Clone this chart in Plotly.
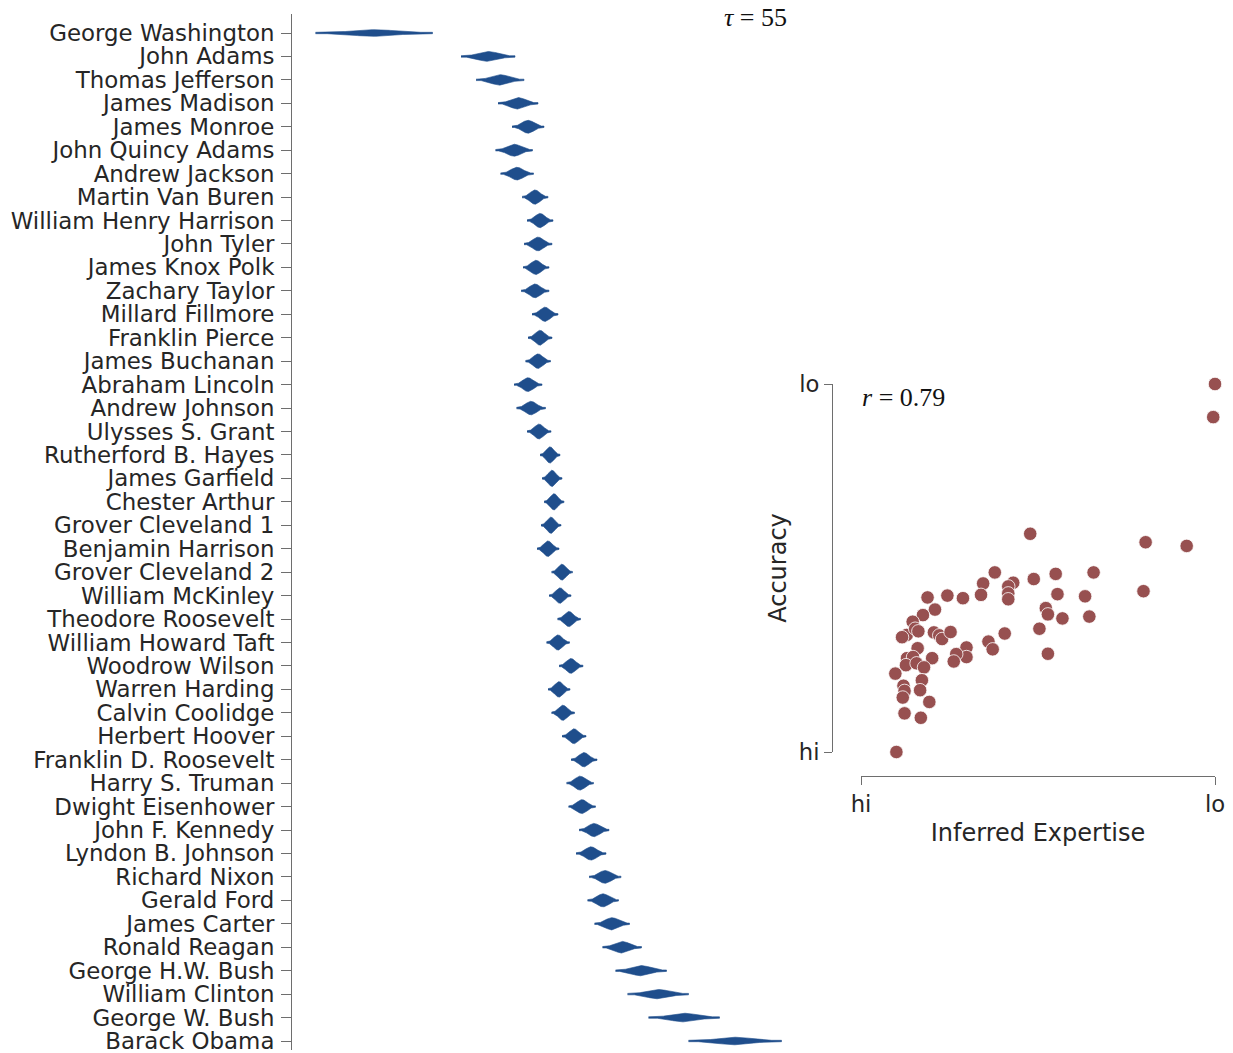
import numpy as np
import plotly.graph_objects as go

W, H = 1233, 1053

# Presidents in chronological order, with the location and extent of each
# posterior expertise distribution (arbitrary expertise units).
presidents = [
    "George Washington", "John Adams", "Thomas Jefferson", "James Madison",
    "James Monroe", "John Quincy Adams", "Andrew Jackson", "Martin Van Buren",
    "William Henry Harrison", "John Tyler", "James Knox Polk", "Zachary Taylor",
    "Millard Fillmore", "Franklin Pierce", "James Buchanan", "Abraham Lincoln",
    "Andrew Johnson", "Ulysses S. Grant", "Rutherford B. Hayes", "James Garfield",
    "Chester Arthur", "Grover Cleveland 1", "Benjamin Harrison", "Grover Cleveland 2",
    "William McKinley", "Theodore Roosevelt", "William Howard Taft", "Woodrow Wilson",
    "Warren Harding", "Calvin Coolidge", "Herbert Hoover", "Franklin D. Roosevelt",
    "Harry S. Truman", "Dwight Eisenhower", "John F. Kennedy", "Lyndon B. Johnson",
    "Richard Nixon", "Gerald Ford", "James Carter", "Ronald Reagan",
    "George H.W. Bush", "William Clinton", "George W. Bush", "Barack Obama",
]
expertise_center = [
    374, 488, 500, 518, 528, 514, 517, 535, 540, 538, 536, 535,
    545, 540, 538, 528, 531, 539, 550, 552, 554, 551, 548, 562,
    560, 569, 558, 571, 559, 563, 574, 584, 580, 582, 594, 591,
    605, 603, 612, 622, 641, 658, 684, 735,
]
expertise_spread = [
    117, 54, 48, 40, 32, 37, 33, 26, 26, 28, 26, 28,
    26, 24, 25, 28, 29, 24, 20, 20, 20, 20, 22, 21,
    22, 23, 23, 24, 22, 23, 24, 26, 27, 27, 30, 30,
    32, 31, 35, 39, 51, 61, 71, 93,
]

# Inset: inferred expertise vs. accuracy (0 = hi, 1 = lo on both axes)
inferred_expertise = [
    1.000, 0.995, 0.478, 0.804, 0.920,
    0.378, 0.345, 0.430, 0.416, 0.488, 0.550, 0.657, 0.798,
    0.188, 0.244, 0.288, 0.339, 0.416, 0.416, 0.555, 0.633,
    0.209, 0.175, 0.146, 0.522, 0.528, 0.569, 0.645, 0.504,
    0.129, 0.116, 0.153, 0.162, 0.206, 0.221, 0.229, 0.253,
    0.406, 0.360, 0.372, 0.528, 0.160, 0.298, 0.298, 0.269,
    0.262, 0.201, 0.130, 0.147, 0.127, 0.157, 0.178, 0.097,
    0.172, 0.120, 0.123, 0.167, 0.118, 0.193, 0.123, 0.169,
    0.100,
]
accuracy = [
    1.000, 0.910, 0.593, 0.570, 0.560,
    0.488, 0.458, 0.460, 0.450, 0.470, 0.484, 0.488, 0.437,
    0.420, 0.425, 0.418, 0.427, 0.431, 0.415, 0.429, 0.423,
    0.387, 0.372, 0.354, 0.391, 0.374, 0.363, 0.368, 0.335,
    0.318, 0.312, 0.335, 0.328, 0.325, 0.317, 0.307, 0.326,
    0.322, 0.300, 0.279, 0.267, 0.282, 0.284, 0.258, 0.266,
    0.246, 0.255, 0.255, 0.258, 0.236, 0.241, 0.230, 0.213,
    0.195, 0.180, 0.166, 0.168, 0.148, 0.136, 0.105, 0.093,
    0.000,
]

tau_label = "<i>τ</i> = 55"
r_label = "<i>r</i> = 0.79"

VIOLIN_BLUE = "#1f4e8c"
DOT_RED = "#975050"
TEXT = "#262626"
AXIS = "#6e6e6e"

# ---- violin-style density shapes, one per president ----
t = np.linspace(-1.0, 1.0, 161)
profile = np.exp(-0.5 * (2.6 * t) ** 2)
xs, ys = [], []
for i, (c, s) in enumerate(zip(expertise_center, expertise_spread)):
    half = 1.55 / np.sqrt(s)
    thick = np.maximum(half * profile, 0.03)
    x_outline = np.concatenate([c + t * s / 2.0, (c + t * s / 2.0)[::-1]])
    y_outline = np.concatenate([i - thick, (i + thick)[::-1]])
    xs.extend(x_outline.tolist() + [None])
    ys.extend(y_outline.tolist() + [None])

fig = go.Figure()
fig.add_trace(go.Scatter(
    x=xs, y=ys, mode="lines", fill="toself", fillcolor=VIOLIN_BLUE,
    line=dict(width=0.6, color=VIOLIN_BLUE), hoverinfo="skip", showlegend=False,
    xaxis="x", yaxis="y",
))

fig.add_trace(go.Scatter(
    x=inferred_expertise, y=accuracy, mode="markers",
    marker=dict(size=13.5, color=DOT_RED, line=dict(width=0.8, color="white")),
    cliponaxis=False, showlegend=False, xaxis="x2", yaxis="y2",
))

def px_x(p):
    return p / W

def px_y(p):
    return 1 - p / H

row0, row_step = 33.0, (1041.0 - 33.0) / 43.0
y_top_row = (14 - row0) / row_step
y_bot_row = (1050 - row0) / row_step

fig.update_layout(
    width=W, height=H,
    margin=dict(l=0, r=0, t=0, b=0, autoexpand=False),
    paper_bgcolor="white", plot_bgcolor="rgba(0,0,0,0)",
    font=dict(family="DejaVu Sans", color=TEXT, size=22),
    xaxis=dict(
        domain=[px_x(292), px_x(1218)], range=[292, 1218],
        visible=False, showgrid=False, zeroline=False, automargin=False,
    ),
    yaxis=dict(
        domain=[px_y(1050), px_y(14)], range=[y_bot_row, y_top_row],
        tickmode="array", tickvals=list(range(len(presidents))), ticktext=presidents,
        ticks="outside", ticklen=10, tickwidth=1, tickcolor=AXIS,
        showline=True, linecolor=AXIS, linewidth=1,
        showgrid=False, zeroline=False, automargin=False,
        ticklabeloverflow="allow",
        tickfont=dict(size=22.9, color=TEXT), ticklabelstandoff=2,
    ),
    xaxis2=dict(
        domain=[px_x(861), px_x(1215)], range=[0, 1],
        anchor="free", position=px_y(776),
        tickmode="array", tickvals=[0, 1], ticktext=["hi", "lo"],
        ticks="outside", ticklen=8, tickwidth=1, tickcolor=AXIS,
        showline=True, linecolor=AXIS, linewidth=1,
        showgrid=False, zeroline=False, automargin=False,
        ticklabeloverflow="allow",
        tickfont=dict(size=22.7, color=TEXT),
        title=dict(text="Inferred Expertise", font=dict(size=24, color=TEXT), standoff=7),
    ),
    yaxis2=dict(
        domain=[px_y(752), px_y(384)], range=[0, 1],
        anchor="free", position=px_x(832),
        tickmode="array", tickvals=[0, 1], ticktext=["hi", "lo"],
        ticks="outside", ticklen=8, tickwidth=1, tickcolor=AXIS,
        showline=True, linecolor=AXIS, linewidth=1,
        showgrid=False, zeroline=False, automargin=False,
        ticklabeloverflow="allow",
        tickfont=dict(size=22.7, color=TEXT),
        title=dict(text="Accuracy", font=dict(size=24, color=TEXT), standoff=4),
    ),
    annotations=[
        dict(text=tau_label, xref="paper", yref="paper", x=px_x(755), y=px_y(17),
             showarrow=False, xanchor="center", yanchor="middle",
             font=dict(family="Liberation Serif", size=26, color="#111111")),
        dict(text=r_label, xref="paper", yref="paper", x=px_x(860), y=px_y(397),
             showarrow=False, xanchor="left", yanchor="middle",
             font=dict(family="Liberation Serif", size=26, color="#111111")),
    ],
)

fig.write_html("out.html")
